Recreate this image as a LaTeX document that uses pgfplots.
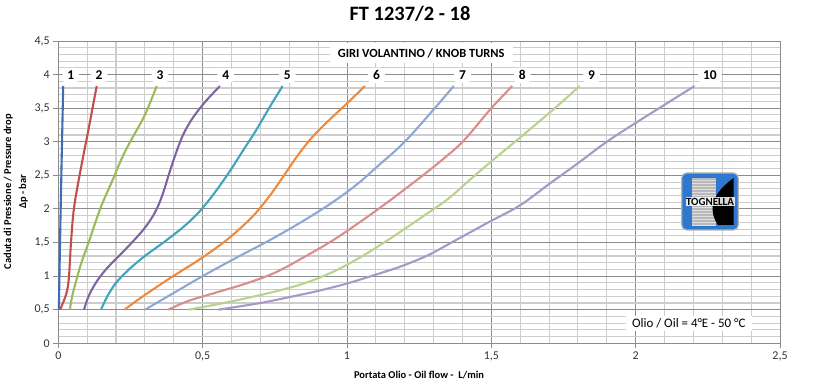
\documentclass[border=0pt]{standalone}
\usepackage{pgfplots}
\pgfplotsset{compat=1.18}
\usepackage{fontspec}
\setmainfont{Carlito}
\definecolor{c1}{HTML}{3E6DB5}
\definecolor{c2}{HTML}{C0504D}
\definecolor{c3}{HTML}{9BBB59}
\definecolor{c4}{HTML}{8064A2}
\definecolor{c5}{HTML}{40A4BC}
\definecolor{c6}{HTML}{F08A3A}
\definecolor{c7}{HTML}{8EA8D4}
\definecolor{c8}{HTML}{D88E8C}
\definecolor{c9}{HTML}{B9D38E}
\definecolor{c10}{HTML}{A898C8}
\definecolor{gmaj}{HTML}{8C8C8C}
\definecolor{gmin}{HTML}{CDCDCD}
\definecolor{logoblue}{HTML}{2F78CF}
\begin{document}
\begin{tikzpicture}
\useasboundingbox (0,0) rectangle (820bp,382bp);
\begin{axis}[
  at={(58.3bp,38.7bp)}, anchor=south west,
  scale only axis, width=721.7bp, height=302.3bp,
  xmin=0, xmax=2.5, ymin=0, ymax=4.5,
  xtick={0,0.5,1,1.5,2,2.5},
  xticklabels={0,{0,5},1,{1,5},2,{2,5}},
  ytick={0,0.5,1,1.5,2,2.5,3,3.5,4,4.5},
  yticklabels={0,{0,5},1,{1,5},2,{2,5},3,{3,5},4,{4,5}},
  minor x tick num=4, minor y tick num=4,
  grid=both,
  major grid style={color=gmaj, line width=0.9bp},
  minor grid style={color=gmin, line width=1.1bp},
  axis line style={gmaj, line width=0.9bp},
  xtick pos=bottom, ytick pos=left,
  tick align=outside,
  major tick length=5bp, minor tick length=0pt,
  major tick style={gmaj, line width=0.9bp},
  ticklabel style={font=\fontsize{12}{12}\selectfont, text=black!80},
  clip=false,
  crv/.style={line width=2.1bp, smooth, tension=0.6, mark=none},
]
\addplot[crv, c1] coordinates {(0.002,0.5) (0.006,1.5) (0.011,2.6) (0.017,3.83)};
\addplot[crv, c2] coordinates {(0.006,0.5) (0.025,0.7) (0.035,0.9) (0.040,1.2) (0.044,1.5) (0.054,2.0) (0.075,2.53) (0.104,3.17) (0.133,3.83)};
\addplot[crv, c3] coordinates {(0.040,0.5) (0.048,0.7) (0.060,0.9) (0.080,1.2) (0.105,1.5) (0.145,2.0) (0.185,2.4) (0.225,2.8) (0.262,3.1) (0.300,3.4) (0.341,3.83)};
\addplot[crv, c4] coordinates {(0.089,0.5) (0.105,0.7) (0.130,0.9) (0.165,1.1) (0.210,1.3) (0.255,1.5) (0.300,1.72) (0.335,1.95) (0.360,2.2) (0.382,2.5) (0.405,2.8) (0.432,3.1) (0.465,3.35) (0.510,3.6) (0.560,3.83)};
\addplot[crv, c5] coordinates {(0.148,0.5) (0.170,0.7) (0.200,0.9) (0.245,1.1) (0.300,1.3) (0.364,1.5) (0.430,1.72) (0.480,1.92) (0.520,2.12) (0.560,2.35) (0.600,2.6) (0.640,2.87) (0.685,3.17) (0.730,3.5) (0.777,3.83)};
\addplot[crv, c6] coordinates {(0.229,0.5) (0.300,0.72) (0.398,1.0) (0.490,1.25) (0.572,1.5) (0.635,1.73) (0.680,1.92) (0.715,2.1) (0.750,2.3) (0.790,2.55) (0.830,2.8) (0.880,3.07) (0.940,3.33) (1.000,3.57) (1.062,3.83)};
\addplot[crv, c7] coordinates {(0.300,0.5) (0.400,0.75) (0.500,1.0) (0.615,1.27) (0.730,1.53) (0.840,1.8) (0.940,2.07) (1.030,2.35) (1.110,2.65) (1.200,3.0) (1.304,3.5) (1.370,3.83)};
\addplot[crv, c8] coordinates {(0.381,0.5) (0.450,0.63) (0.550,0.76) (0.650,0.89) (0.750,1.05) (0.850,1.28) (0.950,1.53) (1.050,1.82) (1.150,2.13) (1.263,2.5) (1.335,2.75) (1.405,3.02) (1.500,3.5) (1.573,3.83)};
\addplot[crv, c9] coordinates {(0.450,0.5) (0.550,0.58) (0.650,0.67) (0.750,0.77) (0.850,0.89) (0.950,1.06) (1.050,1.29) (1.150,1.56) (1.250,1.85) (1.350,2.15) (1.430,2.45) (1.520,2.78) (1.610,3.1) (1.720,3.5) (1.806,3.83)};
\addplot[crv, c10] coordinates {(0.554,0.5) (0.700,0.6) (0.803,0.69) (0.900,0.78) (1.000,0.89) (1.113,1.04) (1.190,1.15) (1.280,1.31) (1.379,1.54) (1.494,1.81) (1.598,2.05) (1.700,2.37) (1.800,2.68) (1.900,3.0) (2.000,3.28) (2.100,3.55) (2.204,3.83)};
% curve labels
\tikzset{lab/.style={fill=white, rounded corners=4bp, inner xsep=5bp, inner ysep=3bp, font=\bfseries\fontsize{13.5}{13.5}\selectfont}}
\node[lab] at (axis cs:0.043,3.99) {1};
\node[lab] at (axis cs:0.141,3.99) {2};
\node[lab] at (axis cs:0.352,3.99) {3};
\node[lab] at (axis cs:0.580,3.99) {4};
\node[lab] at (axis cs:0.793,3.99) {5};
\node[lab] at (axis cs:1.102,3.99) {6};
\node[lab] at (axis cs:1.400,3.99) {7};
\node[lab] at (axis cs:1.607,3.99) {8};
\node[lab] at (axis cs:1.847,3.99) {9};
\node[lab] at (axis cs:2.257,3.99) {10};
\node[fill=white, inner xsep=8bp, inner ysep=5bp, font=\bfseries\fontsize{12.5}{12.5}\selectfont] at (axis cs:1.257,4.32) {GIRI VOLANTINO / KNOB TURNS};
\node[fill=white, inner xsep=6bp, inner ysep=3bp, font=\fontsize{13}{13}\selectfont] at (axis cs:2.184,0.295) {Olio / Oil = 4°E - 50 °C};
\end{axis}
% title and axis labels
\node[font=\bfseries\fontsize{20.5}{20.5}\selectfont] at (410bp,368bp) {FT 1237/2 - 18};
\node[font=\bfseries\fontsize{10.5}{10.5}\selectfont] at (419bp,7bp) {Portata Olio - Oil flow - \ L/min};
\node[rotate=90, align=center, font=\bfseries\fontsize{10.5}{15}\selectfont] at (15.8bp,190.3bp) {Caduta di Pressione / Pressure drop\\Δp - bar};
% logo
\begin{scope}
\fill[logoblue, rounded corners=5bp] (681.7bp,152bp) rectangle (738.3bp,209bp);
\draw[gray!60, line width=1.2bp, rounded corners=5bp] (681.7bp,152bp) rectangle (738.3bp,209bp);
\fill[gray!55] (691.7bp,156bp) rectangle (716bp,204bp);
\foreach \k in {0,...,15} {\draw[gray!25, line width=0.6bp] (691.7bp,157bp+\k*3bp) -- (716bp,157bp+\k*3bp);}
\fill[black] (733.5bp,204bp) -- (733.5bp,157bp) -- (718bp,157bp) .. controls (709bp,170bp) and (709bp,186bp) .. (733.5bp,204bp) -- cycle;
\node[font=\bfseries\fontsize{11}{11}\selectfont, inner sep=0.5bp, fill=white, fill opacity=0.85, text opacity=1] at (710bp,180.5bp) {TOGNELLA};
\end{scope}
\end{tikzpicture}
\end{document}
